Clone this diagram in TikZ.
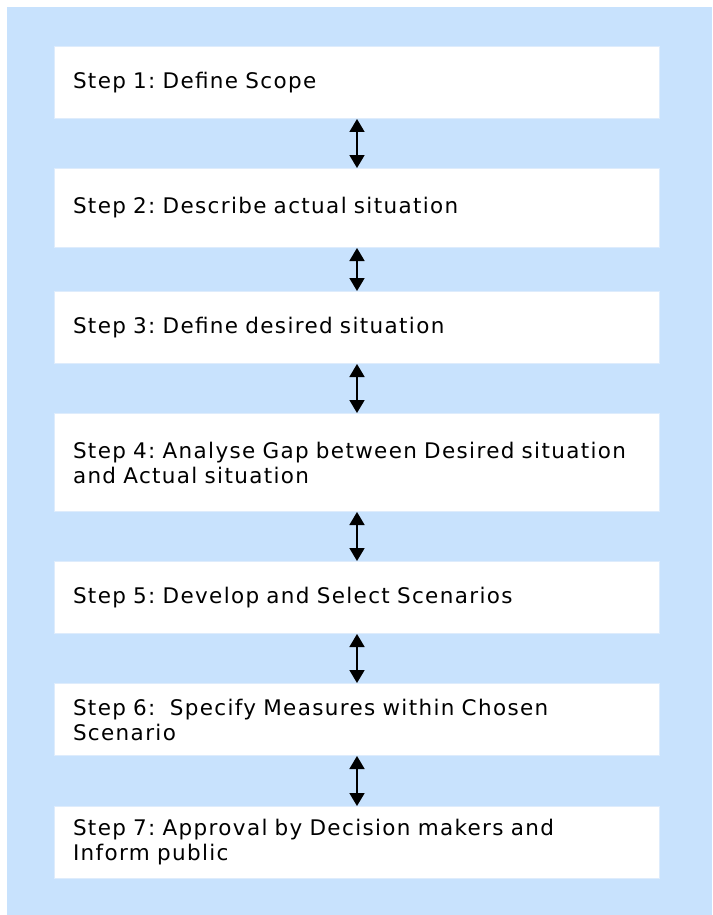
\documentclass[tikz,border=0pt]{standalone}
\usepackage{fontspec}
\setmainfont{DejaVu Sans}[LetterSpace=6.3, WordSpace=1.4]
\usetikzlibrary{arrows.meta}
\definecolor{panelblue}{RGB}{200,226,253}
\definecolor{boxedge}{RGB}{222,236,252}
\begin{document}
\frenchspacing
\begin{tikzpicture}[x=1pt,y=-1pt,
  stepbox/.style={draw=boxedge, line width=1pt, fill=white, anchor=north west,
    minimum width=605pt, text width=568pt, align=left, inner xsep=18pt, inner ysep=0pt,
    font=\fontsize{21.5}{25}\selectfont},
  link/.style={{Triangle[width=15pt,length=13pt]}-{Triangle[width=15pt,length=13pt]}, line width=1.8pt, black}]
  \useasboundingbox (0,0) rectangle (712,915);
  \fill[panelblue] (7,7) rectangle (712,915);

  \node[stepbox, minimum height=72pt] (s1) at (54,46) {Step 1: Define Scope};
  \node[stepbox, minimum height=79pt] (s2) at (54,168) {Step 2: Describe actual situation};
  \node[stepbox, minimum height=72pt] (s3) at (54,291) {Step 3: Define desired situation};
  \node[stepbox, minimum height=98pt] (s4) at (54,413) {Step 4: Analyse Gap between Desired situation\\and Actual situation};
  \node[stepbox, minimum height=72pt] (s5) at (54,561) {Step 5: Develop and Select Scenarios};
  \node[stepbox, minimum height=72pt] (s6) at (54,683) {Step 6:\ \ Specify Measures within Chosen\\Scenario};
  \node[stepbox, minimum height=72pt] (s7) at (54,806) {Step 7: Approval by Decision makers and\\Inform public};

  \draw[link] (s1.south) -- (s2.north);
  \draw[link] (s2.south) -- (s3.north);
  \draw[link] (s3.south) -- (s4.north);
  \draw[link] (s4.south) -- (s5.north);
  \draw[link] (s5.south) -- (s6.north);
  \draw[link] (s6.south) -- (s7.north);
\end{tikzpicture}
\end{document}
